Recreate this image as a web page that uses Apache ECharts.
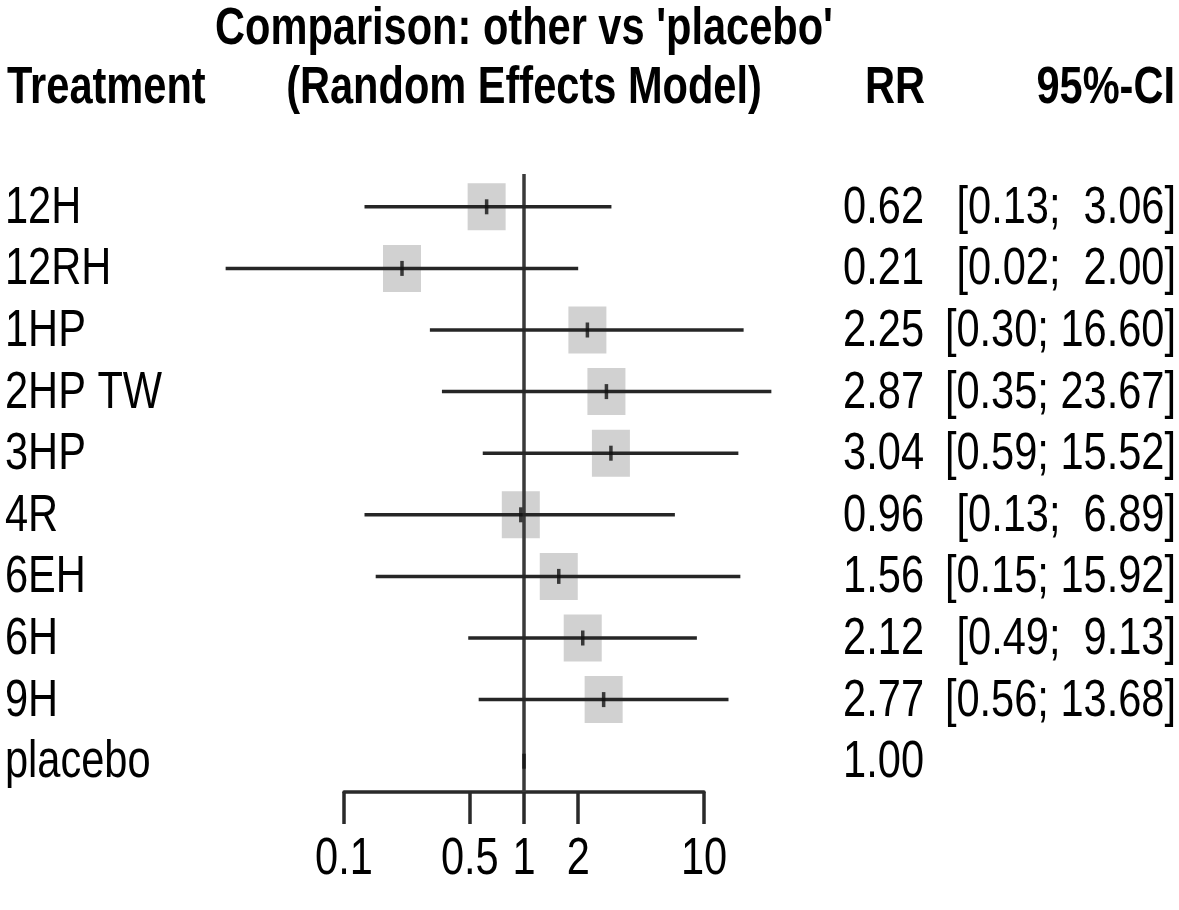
<!DOCTYPE html>
<html><head><meta charset="utf-8">
<script src="https://cdn.jsdelivr.net/npm/echarts@6/dist/echarts.min.js"></script>
<style>html,body{margin:0;padding:0;background:#fff}#c{width:1179px;height:910px}</style>
</head><body><div id="c"></div>
<script>
const treatments = ['12H','12RH','1HP','2HP TW','3HP','4R','6EH','6H','9H','placebo'];
const rr    = [0.62, 0.21, 2.25, 2.87, 3.04, 0.96, 1.56, 2.12, 2.77, 1.00];
const lower = [0.13, 0.022, 0.30, 0.35, 0.59, 0.13, 0.15, 0.49, 0.56, null];
const upper = [3.06, 2.00, 16.60, 23.67, 15.52, 6.89, 15.92, 9.13, 13.68, null];
const tickValues = [0.1, 0.5, 1, 2, 10];
const tickLabels = ['0.1', '0.5', '1', '2', '10'];
const titleLine1 = "Comparison: other vs 'placebo'";
const titleLine2 = '(Random Effects Model)';
const colHeaders = ['Treatment', 'RR', '95%-CI'];

const FONT = '"Liberation Sans", Arial, Helvetica, sans-serif';
const FS = 51;
const SX = 0.815;

const rrText = rr.map(v => v.toFixed(2));
const ciText = lower.map((lo, i) => lo == null ? '' :
  '[' + lo.toFixed(2) + '; ' + upper[i].toFixed(2).padStart(5, ' ') + ']');

const ciData = [];
lower.forEach((lo, i) => { if (lo != null) ciData.push([lo, upper[i], i]); });
const sqData = [];
rr.forEach((v, i) => { if (lower[i] != null) sqData.push([v, i]); });
const ptData = rr.map((v, i) => [v, i]);

const chart = echarts.init(document.getElementById('c'), null, {renderer: 'canvas'});
chart.setOption({
  animation: false,
  backgroundColor: '#fff',
  grid: {left: 344, width: 360, top: 176, height: 616},
  xAxis: {
    type: 'log', logBase: 10, min: 0.1, max: 10, position: 'bottom',
    splitLine: {show: false},
    axisLine: {show: true, onZero: false, lineStyle: {color: '#2a2a2a', width: 3.5}},
    axisTick: {show: true, length: 32, lineStyle: {color: '#2a2a2a', width: 3.5}, customValues: tickValues},
    axisLabel: {show: false}
  },
  yAxis: {type: 'value', min: -0.5, max: 9.5, inverse: true, show: false,
    splitLine: {show: false}},
  series: [
    {type: 'scatter', data: sqData, symbol: 'rect', symbolSize: [38, 47],
     itemStyle: {color: '#c6c6c6'}, silent: true, z: 2},
    {type: 'custom', data: [[1, -0.5, 9.5]], z: 3, silent: true, clip: false,
     renderItem: (params, api) => {
       const p1 = api.coord([api.value(0), api.value(1)]);
       const p2 = api.coord([api.value(0), api.value(2)]);
       return {type: 'line', shape: {x1: p1[0], y1: p1[1] - 2, x2: p2[0], y2: p2[1]},
               style: {stroke: '#3a3a3a', lineWidth: 3.5}};
     }},
    {type: 'custom', data: ciData, z: 3, silent: true, clip: false,
     renderItem: (params, api) => {
       const p1 = api.coord([api.value(0), api.value(2)]);
       const p2 = api.coord([api.value(1), api.value(2)]);
       return {type: 'line', shape: {x1: p1[0], y1: p1[1], x2: p2[0], y2: p2[1]},
               style: {stroke: '#262626', lineWidth: 3.5}};
     }},
    {type: 'scatter', data: ptData, symbol: 'rect', symbolSize: [3.5, 15],
     itemStyle: {color: '#111'}, silent: true, z: 4}
  ]
});

function txt(text, x, y, align, bold) {
  return {type: 'text', x: x, y: y, scaleX: SX, silent: true, z: 10,
    style: {text: text, align: align, verticalAlign: 'middle',
      font: (bold ? 'bold ' : '') + FS + 'px ' + FONT, fill: '#000'}};
}
const g = [];
g.push(txt(titleLine1, 524, 30, 'center', true));
g.push(txt(titleLine2, 524, 89, 'center', true));
g.push(txt(colHeaders[0], 7, 89, 'left', true));
g.push(txt(colHeaders[1], 925, 89, 'right', true));
g.push(txt(colHeaders[2], 1175, 89, 'right', true));
treatments.forEach((t, i) => {
  const y = chart.convertToPixel({yAxisIndex: 0}, i) + 2;
  g.push(txt(t, 5, y, 'left', false));
  g.push(txt(rrText[i], 924, y, 'right', false));
  if (ciText[i]) g.push(txt(ciText[i], 1176, y, 'right', false));
});
tickValues.forEach((v, k) => {
  const x = chart.convertToPixel({xAxisIndex: 0}, v);
  g.push(txt(tickLabels[k], x, 860, 'center', false));
});
chart.setOption({graphic: g});
</script>
</body></html>
